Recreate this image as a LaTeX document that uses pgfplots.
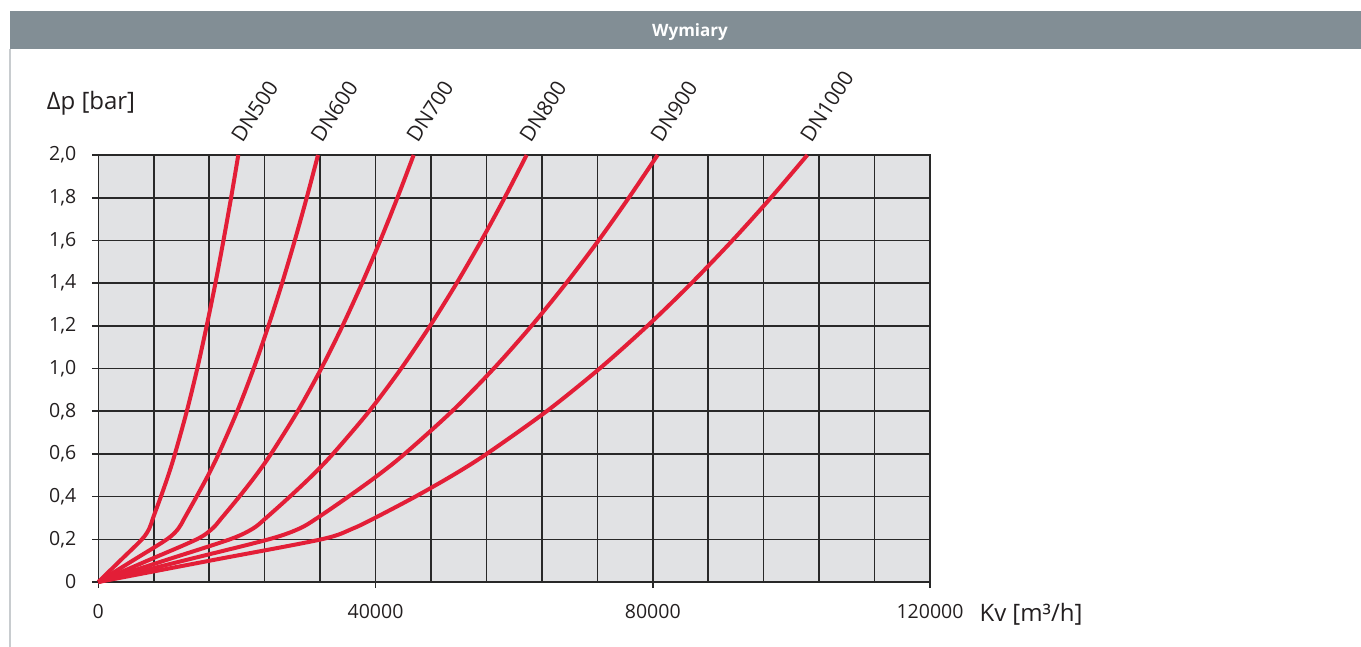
\documentclass[border=0pt]{standalone}
\usepackage{pgfplots}
\pgfplotsset{compat=1.18}
\usepackage{fontspec}
\setmainfont{Open Sans}
\usetikzlibrary{calc}
\definecolor{hdr}{RGB}{130,142,149}
\definecolor{curvec}{RGB}{227,30,55}
\definecolor{bgc}{RGB}{225,226,228}
\definecolor{gridc}{RGB}{40,40,40}
\definecolor{txtc}{RGB}{35,31,32}
\begin{document}
\begin{tikzpicture}
\useasboundingbox (0,0) rectangle (680.5pt,-323.5pt);
\fill[hdr] (5pt,-5.5pt) rectangle (680.5pt,-24.5pt);
\node[text=white, font=\bfseries\fontsize{8.5}{10}\selectfont] at (345pt,-16pt) {Wymiary};
\draw[color={rgb,255:red,200;green,204;blue,207}, line width=0.7pt] (5pt,-24.5pt) -- (5pt,-323.5pt);
\begin{axis}[
  at={(49.15pt,-291pt)}, anchor=south west,
  scale only axis, width=415.85pt, height=213.5pt,
  xmin=0, xmax=120000, ymin=0, ymax=2,
  axis background/.style={fill=bgc},
  scaled x ticks=false, scaled y ticks=false,
  xtick={0,40000,80000,120000},
  xticklabels={0,40000,80000,120000},
  minor xtick={8000,16000,24000,32000,48000,56000,64000,72000,88000,96000,104000,112000},
  ytick={0,0.2,0.4,0.6,0.8,1.0,1.2,1.4,1.6,1.8,2.0},
  yticklabels={0,{0,2},{0,4},{0,6},{0,8},{1,0},{1,2},{1,4},{1,6},{1,8},{2,0}},
  grid=both,
  major grid style={gridc, line width=0.8pt},
  minor grid style={gridc, line width=0.8pt},
  axis line style={gridc, line width=0.8pt},
  tick style={gridc, line width=0.8pt},
  tick align=outside, tick pos=left,
  major tick length=3pt, minor tick length=0pt,
  tick label style={font=\fontsize{9.75}{11}\selectfont, text=txtc},
  yticklabel style={xshift=-4.5pt},
  xticklabel style={yshift=-4.5pt},
  xlabel={Kv [m³/h]},
  ylabel={Δp [bar]},
  every axis x label/.style={at={(rel axis cs:1,0)}, anchor=center, xshift=50.5pt, yshift=-16pt, font=\fontsize{12}{14}\selectfont, text=txtc},
  every axis y label/.style={at={(rel axis cs:0,1)}, anchor=center, xshift=-3.65pt, yshift=26pt, font=\fontsize{12}{14}\selectfont, text=txtc},
  clip=false,
]
% DN500
\addplot[curvec, line width=2pt, smooth] coordinates {(0,0) (3150,0.1) (6300,0.2) (7350,0.25) (7900,0.3) (9030,0.4) (10100,0.5) (11060,0.6) (12770,0.8) (14280,1.0) (15640,1.2) (16900,1.4) (18060,1.6) (19160,1.8) (20200,2.0)};
% DN600
\addplot[curvec, line width=2pt, smooth] coordinates {(0,0) (4950,0.1) (9900,0.2) (11550,0.25) (12450,0.3) (14180,0.4) (15850,0.5) (17360,0.6) (20050,0.8) (22415,1.0) (24550,1.2) (26520,1.4) (28350,1.6) (30070,1.8) (31700,2.0)};
% DN700
\addplot[curvec, line width=2pt, smooth] coordinates {(0,0) (7100,0.1) (14200,0.2) (16450,0.25) (17800,0.3) (20350,0.4) (22750,0.5) (24920,0.6) (28770,0.8) (32170,1.0) (35240,1.2) (38060,1.4) (40690,1.6) (43160,1.8) (45500,2.0)};
% DN800
\addplot[curvec, line width=2pt, smooth] coordinates {(0,0) (9500,0.1) (19000,0.2) (22300,0.25) (24200,0.3) (27640,0.4) (30900,0.5) (33850,0.6) (39090,0.8) (43700,1.0) (47870,1.2) (51710,1.4) (55280,1.6) (58630,1.8) (61800,2.0)};
% DN900
\addplot[curvec, line width=2pt, smooth] coordinates {(0,0) (12300,0.1) (24600,0.2) (29000,0.25) (31600,0.3) (36090,0.4) (40350,0.5) (44200,0.6) (51040,0.8) (57060,1.0) (62510,1.2) (67510,1.4) (72180,1.6) (76550,1.8) (80700,2.0)};
% DN1000
\addplot[curvec, line width=2pt, smooth] coordinates {(0,0) (16100,0.1) (32200,0.2) (36700,0.25) (39900,0.3) (45750,0.4) (51150,0.5) (56030,0.6) (64700,0.8) (72340,1.0) (79240,1.2) (85590,1.4) (91500,1.6) (97050,1.8) (102300,2.0)};
\foreach \xx/\lab in {20200/DN500, 31700/DN600, 45500/DN700, 61800/DN800, 80700/DN900, 102300/DN1000} {
  \edef\temp{\noexpand\node[rotate=57, anchor=base west, inner sep=0pt, font=\noexpand\fontsize{10.5}{12}\noexpand\selectfont, text=txtc] at (\noexpand$(axis cs:\xx,2)+(2pt,5.5pt)\noexpand$) {\lab};}
  \temp
}
\end{axis}
\end{tikzpicture}
\end{document}
